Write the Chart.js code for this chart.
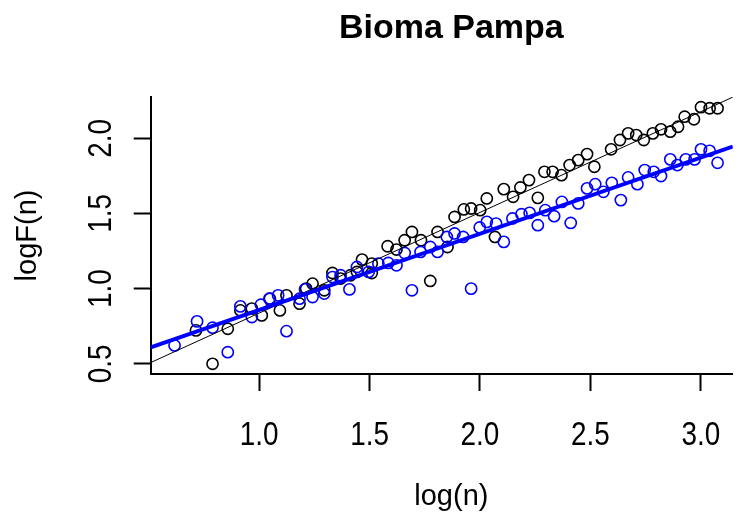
<!DOCTYPE html>
<html>
<head>
<meta charset="utf-8">
<script src="https://cdn.jsdelivr.net/npm/chart.js@4"></script>
<style>
  html, body { margin:0; padding:0; background:#fff; overflow:hidden; }
</style>
</head>
<body>
<canvas id="c" width="740" height="525"></canvas>
<script>
"use strict";

// black series (log n, log F(n))
var blackX = [0.789,0.714,0.858,0.915,0.967,1.012,1.049,1.094,1.124,1.183,1.213,1.242,1.295,1.332,1.369,1.414,1.443,1.466,1.510,1.510,
              1.582,1.622,1.659,1.692,1.733,1.775,1.808,1.853,1.885,1.927,1.960,2.001,2.031,2.068,2.108,2.150,2.183,2.222,2.262,2.292,
              2.329,2.369,2.406,2.445,2.485,2.518,2.594,2.634,2.671,2.708,2.742,2.783,2.820,2.862,2.897,2.927,2.969,3.001,3.040,3.076];
var blackY = [0.500,0.722,0.733,0.855,0.867,0.822,0.933,0.855,0.955,0.900,1.000,1.033,0.989,1.104,1.067,1.089,1.111,1.193,1.104,1.167,
              1.282,1.260,1.322,1.377,1.322,1.051,1.377,1.277,1.477,1.527,1.533,1.522,1.600,1.344,1.662,1.611,1.673,1.722,1.604,1.777,
              1.777,1.755,1.822,1.855,1.895,1.811,1.927,1.989,2.033,2.022,1.989,2.033,2.060,2.044,2.077,2.144,2.127,2.207,2.200,2.200];

// blue series
var blueX = [0.617,0.719,0.789,0.858,0.915,0.967,1.008,1.046,1.086,1.124,1.183,1.208,1.242,1.295,1.332,1.369,1.409,1.443,1.496,1.540,
             1.585,1.622,1.659,1.692,1.731,1.775,1.808,1.850,1.885,1.924,1.960,1.999,2.031,2.073,2.108,2.147,2.188,2.225,2.262,2.296,
             2.336,2.371,2.411,2.445,2.485,2.522,2.559,2.597,2.638,2.671,2.713,2.746,2.787,2.820,2.862,2.894,2.932,2.972,3.001,3.040,3.076];
var blueY = [0.622,0.782,0.740,0.577,0.882,0.811,0.893,0.933,0.955,0.717,0.933,0.995,0.944,0.967,1.077,1.089,0.995,1.144,1.111,1.167,
             1.171,1.155,1.237,0.989,1.244,1.277,1.244,1.344,1.367,1.344,1.000,1.407,1.444,1.433,1.311,1.467,1.495,1.504,1.422,1.522,
             1.482,1.577,1.437,1.567,1.667,1.695,1.644,1.704,1.589,1.740,1.695,1.789,1.777,1.749,1.860,1.822,1.860,1.860,1.927,1.917,1.837];

// fitted lines: y = a + b*x
var blackFit = { a: 0.167, b: 0.670 };
var blueFit = { a: 0.351, b: 0.507 };

var xTicks = [1.0, 1.5, 2.0, 2.5, 3.0];
var yTicks = [0.5, 1.0, 1.5, 2.0];
var xRange = [0.509, 3.145];
var yRange = [0.432, 2.275];

var FONT = '"Liberation Sans", Arial, sans-serif';

function pts(xs, ys) {
  return xs.map(function(x, i) { return { x: x, y: ys[i] }; });
}
function fitLine(f) {
  return xRange.map(function(x) { return { x: x, y: f.a + f.b * x }; });
}

// text drawn R-style (rotated y labels, title centred on plot region)
var rText = {
  id: "rText",
  afterDraw: function(chart) {
    var ctx = chart.ctx, ca = chart.chartArea;
    var xs = chart.scales.x, ys = chart.scales.y;
    var cx = (ca.left + 752) / 2;
    ctx.save();
    ctx.fillStyle = "#000";
    ctx.textAlign = "center";
    ctx.textBaseline = "alphabetic";

    ctx.font = "bold 34px " + FONT;
    ctx.fillText("Bioma Pampa", cx, 38);

    ctx.font = "29px " + FONT;
    ctx.fillText("log(n)", cx, 505);

    ctx.save();
    ctx.translate(36, (ca.top + ca.bottom) / 2);
    ctx.rotate(-Math.PI / 2);
    ctx.fillText("logF(n)", 0, 0);
    ctx.restore();

    ctx.font = "34px " + FONT;
    xTicks.forEach(function(v) {
      ctx.save();
      ctx.translate(xs.getPixelForValue(v), 445);
      ctx.scale(0.82, 1);
      ctx.fillText(v.toFixed(1), 0, 0);
      ctx.restore();
    });
    yTicks.forEach(function(v) {
      ctx.save();
      ctx.translate(111, ys.getPixelForValue(v));
      ctx.rotate(-Math.PI / 2);
      ctx.scale(0.82, 1);
      ctx.fillText(v.toFixed(1), 0, 0);
      ctx.restore();
    });
    ctx.restore();
  }
};

var axisGrid = { drawOnChartArea: false, drawTicks: true, tickLength: 17, tickColor: "#000", tickWidth: 2 };
var axisBorder = { display: true, color: "#000", width: 2 };

new Chart(document.getElementById("c").getContext("2d"), {
  type: "scatter",
  data: {
    datasets: [
      { type: "line", data: fitLine(blueFit), borderColor: "#0000ff", borderWidth: 4, pointRadius: 0, fill: false },
      { type: "line", data: fitLine(blackFit), borderColor: "#000", borderWidth: 1, pointRadius: 0, fill: false },
      { data: pts(blueX, blueY), borderColor: "#0000ff", backgroundColor: "rgba(0,0,0,0)", borderWidth: 1.6, pointRadius: 5.6 },
      { data: pts(blackX, blackY), borderColor: "#000", backgroundColor: "rgba(0,0,0,0)", borderWidth: 1.6, pointRadius: 5.6 },
    ],
  },
  options: {
    responsive: false,
    animation: false,
    devicePixelRatio: 1,
    layout: { padding: { top: 97, left: 0, right: 0, bottom: 0 } },
    plugins: { legend: { display: false }, tooltip: { enabled: false }, title: { display: false } },
    scales: {
      x: {
        type: "linear", min: xRange[0], max: xRange[1],
        afterBuildTicks: function(s) { s.ticks = xTicks.map(function(v) { return { value: v }; }); },
        afterFit: function(s) { s.height = 151; },
        ticks: { display: false },
        grid: axisGrid, border: axisBorder,
      },
      y: {
        type: "linear", min: yRange[0], max: yRange[1],
        afterBuildTicks: function(s) { s.ticks = yTicks.map(function(v) { return { value: v }; }); },
        afterFit: function(s) { s.width = 150.7; },
        ticks: { display: false },
        grid: axisGrid, border: axisBorder,
      },
    },
  },
  plugins: [rText],
});
</script>
</body>
</html>
